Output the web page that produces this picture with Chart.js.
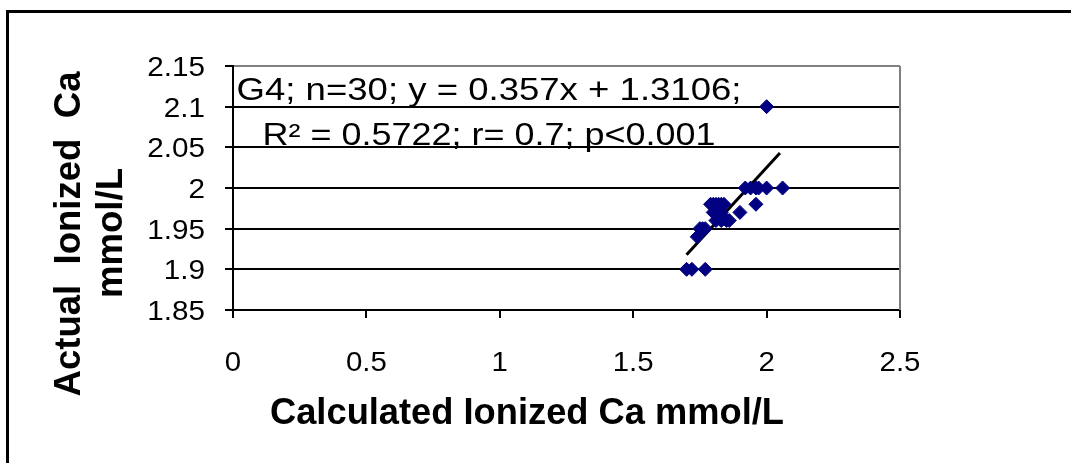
<!DOCTYPE html>
<html>
<head>
<meta charset="utf-8">
<script src="https://cdn.jsdelivr.net/npm/chart.js@4.4.0/dist/chart.umd.min.js"></script>
<style>
  html, body { margin: 0; padding: 0; background: #fff; overflow: hidden; }
  #wrap { position: relative; width: 1071px; height: 463px; }
  #frame { position: absolute; left: 6px; top: 10px; width: 1200px; height: 600px; border: 3px solid #000; box-sizing: border-box; }
  canvas { position: absolute; left: 0; top: 0; }
</style>
</head>
<body>
<div id="wrap">
  <div id="frame"></div>
  <canvas id="scatterChart" width="1071" height="463"></canvas>
</div>
<script>
// G4 group, n = 30
const calcCa   = [1.70, 1.72, 1.77, 1.74, 1.75, 1.76, 1.77, 1.79, 1.80, 1.81, 1.82, 1.83, 1.84, 1.80, 1.81,
                  1.82, 1.83, 1.81, 1.83, 1.85, 1.86, 1.90, 1.96, 1.92, 1.94, 1.96, 1.97, 2.00, 2.06, 2.00];
const actualCa = [1.90, 1.90, 1.90, 1.94, 1.95, 1.95, 1.95, 1.98, 1.98, 1.98, 1.98, 1.98, 1.98, 1.97, 1.97,
                  1.97, 1.97, 1.96, 1.96, 1.96, 1.96, 1.97, 1.98, 2.00, 2.00, 2.00, 2.00, 2.00, 2.00, 2.10];

// trend line end points
const trendX = [1.70, 2.05];
const trendY = [1.918, 2.043];

const xTickLabels = ['0', '0.5', '1', '1.5', '2', '2.5'];
const yTickLabels = ['1.85', '1.9', '1.95', '2', '2.05', '2.1', '2.15'];

const annotationLines = ['G4; n=30; y = 0.357x + 1.3106;', 'R\u00B2 = 0.5722; r= 0.7; p<0.001'];
const xTitle = 'Calculated Ionized Ca mmol/L';
const yTitle = ['Actual  Ionized  Ca', 'mmol/L'];

const points = calcCa.map((x, i) => ({ x: x, y: actualCa[i] }));
const trend = trendX.map((x, i) => ({ x: x, y: trendY[i] }));

// draw text squeezed/stretched to a width
function drawText(ctx, text, x, y, font, align, width) {
  ctx.save();
  ctx.font = font;
  ctx.fillStyle = '#000';
  ctx.textBaseline = 'alphabetic';
  const w = ctx.measureText(text).width;
  const sx = width ? width / w : 1;
  ctx.translate(x, y);
  ctx.scale(sx, 1);
  ctx.textAlign = align;
  ctx.fillText(text, 0, 0);
  ctx.restore();
}

const textPlugin = {
  id: 'textPlugin',
  beforeDatasetsDraw(chart) {
    const ctx = chart.ctx;
    const a = chart.chartArea;
    // gray frame of plot area (right side)
    ctx.save();
    ctx.strokeStyle = '#808080';
    ctx.lineWidth = 2;
    ctx.beginPath();
    ctx.moveTo(a.right, a.top);
    ctx.lineTo(a.right, a.bottom);
    ctx.stroke();
    ctx.restore();
  },
  afterDraw(chart) {
    const ctx = chart.ctx;
    const xs = chart.scales.x;
    const ys = chart.scales.y;

    xs.ticks.forEach((t, i) => {
      const px = xs.getPixelForValue(t.value);
      ctx.save();
      ctx.font = '28px Arial';
      const w = ctx.measureText(xTickLabels[i]).width * 1.05;
      ctx.restore();
      drawText(ctx, xTickLabels[i], px, 371, '28px Arial', 'center', w);
    });
    ys.ticks.forEach((t, i) => {
      const py = ys.getPixelForValue(t.value);
      ctx.save();
      ctx.font = '28px Arial';
      const w = ctx.measureText(yTickLabels[i]).width * 1.06;
      ctx.restore();
      drawText(ctx, yTickLabels[i], 205, py + 10, '28px Arial', 'right', w);
    });

    // regression label
    drawText(ctx, annotationLines[0], 489, 100, '31px Arial', 'center', 505);
    drawText(ctx, annotationLines[1], 489, 145, '31px Arial', 'center', 453);

    // axis titles
    drawText(ctx, xTitle, 527, 424, 'bold 36px Arial', 'center', 514);

    ctx.save();
    ctx.translate(80, 234);
    ctx.rotate(-Math.PI / 2);
    drawText(ctx, yTitle[0], 0, 0, 'bold 36px Arial', 'center', 325);
    ctx.restore();
    ctx.save();
    ctx.translate(122, 233);
    ctx.rotate(-Math.PI / 2);
    drawText(ctx, yTitle[1], 0, 0, 'bold 36px Arial', 'center', 130);
    ctx.restore();
  }
};

const config = {
  type: 'scatter',
  data: {
    datasets: [
      {
        label: 'G4',
        data: points,
        pointStyle: 'rectRot',
        pointRadius: 7,
        pointHoverRadius: 7,
        backgroundColor: '#000080',
        borderColor: '#000080',
        borderWidth: 1
      },
      {
        type: 'line',
        label: 'Linear',
        data: trend,
        showLine: true,
        pointRadius: 0,
        borderColor: '#000',
        borderWidth: 3,
        fill: false
      }
    ]
  },
  options: {
    responsive: false,
    animation: false,
    events: [],
    layout: { padding: { left: 225, top: 66, right: 171, bottom: 145 } },
    plugins: { legend: { display: false }, tooltip: { enabled: false } },
    scales: {
      x: {
        type: 'linear',
        min: 0,
        max: 2.5,
        ticks: { stepSize: 0.5, display: false },
        grid: { drawOnChartArea: false, drawTicks: true, tickLength: 8, color: '#000', lineWidth: 2 },
        border: { color: '#000', width: 2 },
        afterFit: (s) => { s.height = 8; }
      },
      y: {
        min: 1.85,
        max: 2.15,
        ticks: { stepSize: 0.05, display: false },
        grid: {
          tickLength: 8,
          lineWidth: 2,
          tickColor: '#000',
          color: (c) => (c.tick && Math.abs(c.tick.value - 2.15) < 1e-6) ? '#808080' : '#000'
        },
        border: { color: '#000', width: 2 },
        afterFit: (s) => { s.width = 8; }
      }
    }
  },
  plugins: [textPlugin]
};

const scatterChart = new Chart(document.getElementById('scatterChart'), config);
</script>
</body>
</html>
